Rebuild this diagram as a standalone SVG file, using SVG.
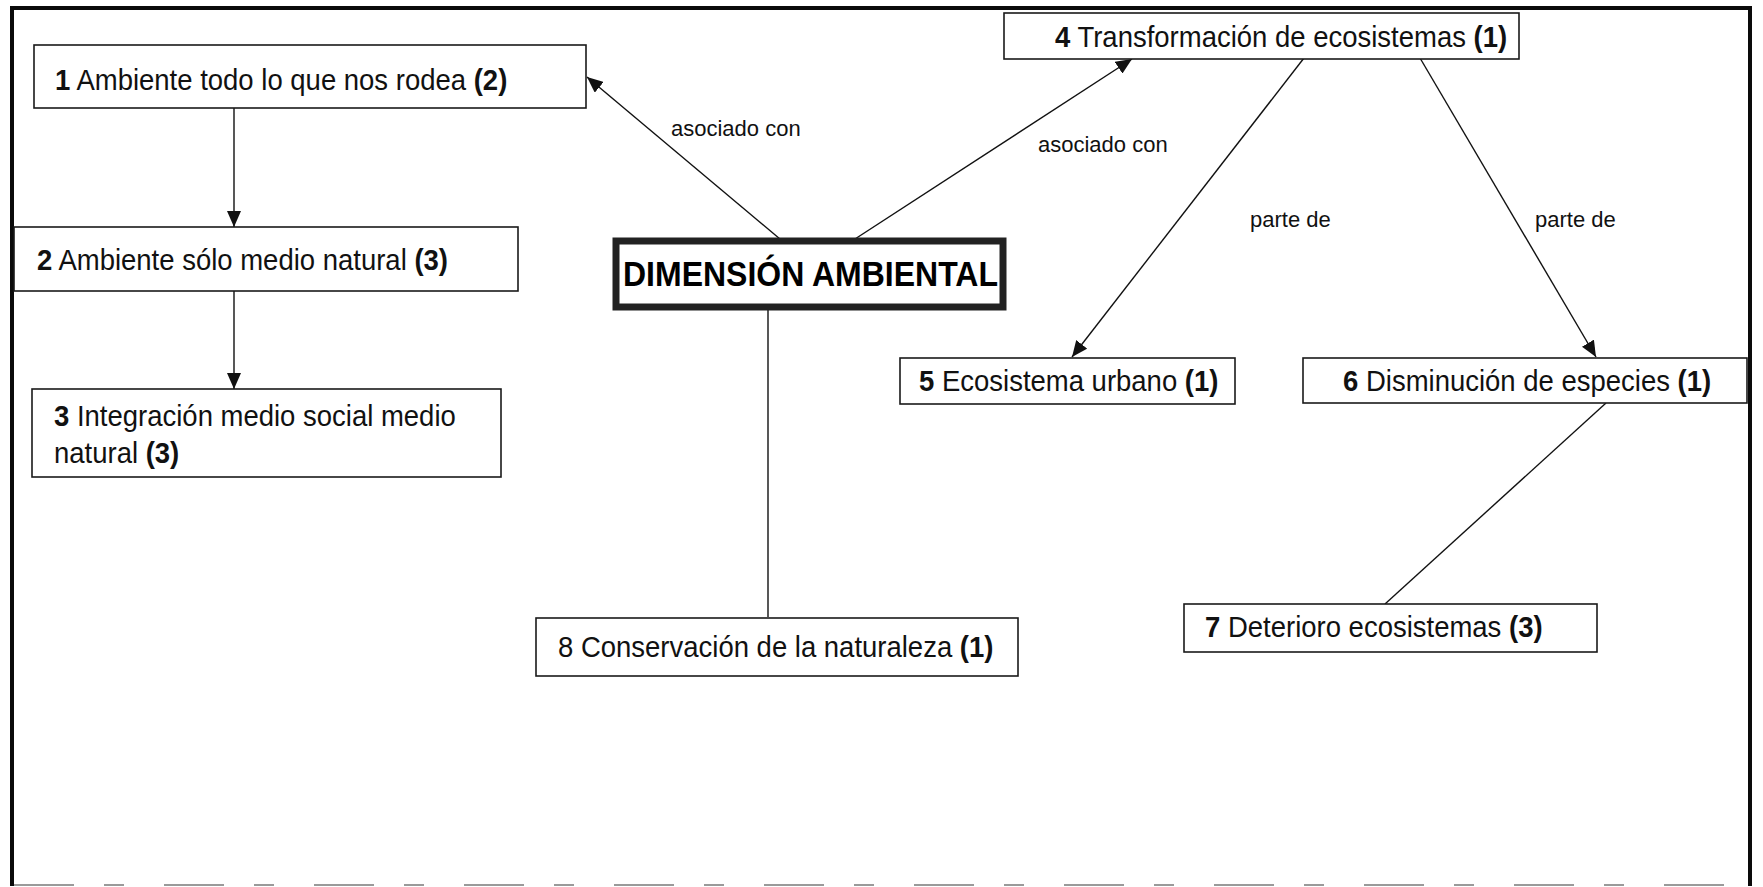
<svg xmlns="http://www.w3.org/2000/svg" width="1763" height="887" viewBox="0 0 1763 887">
  <style>
    .node rect { fill: #ffffff; stroke: #1a1a1a; stroke-width: 1.6; }
    .main rect { fill: #ffffff; stroke: #222222; stroke-width: 7; }
    .t { font-family: "Liberation Sans", Arial, sans-serif; font-size: 27.5px; fill: #111111; }
    .m { font-family: "Liberation Sans", Arial, sans-serif; font-size: 32px; font-weight: bold; fill: #000000; }
    .b { font-weight: bold; }
    .lbl { font-family: "Liberation Sans", Arial, sans-serif; font-size: 22px; fill: #111111; }
    .conn line { stroke: #111111; stroke-width: 1.4; fill: none; }
    .frame { stroke: #0a0a0a; stroke-width: 4; fill: none; }
    .frame-bottom { stroke: #9a9a9a; stroke-width: 2; stroke-dasharray: 60 30 20 40; fill: none; }
  </style>
  <defs>
    <marker id="ah" markerWidth="16" markerHeight="14" refX="16" refY="7" orient="auto" markerUnits="userSpaceOnUse">
      <path d="M0,0 L16,7 L0,14 z" fill="#111111"/>
    </marker>
  </defs>

  <rect width="1763" height="887" fill="#ffffff"/>

  <g id="frame">
    <path class="frame" d="M12,886 L12,8 L1750,8 L1750,886"/>
    <line class="frame-bottom" x1="14" y1="885" x2="1748" y2="885"/>
  </g>

  <g id="connectors" class="conn">
    <line x1="234" y1="108" x2="234" y2="227" marker-end="url(#ah)"/>
    <line x1="234" y1="291" x2="234" y2="389" marker-end="url(#ah)"/>
    <line x1="780" y1="239" x2="587" y2="77" marker-end="url(#ah)"/>
    <line x1="855" y1="239" x2="1132" y2="59" marker-end="url(#ah)"/>
    <line x1="1304" y1="58" x2="1072" y2="357" marker-end="url(#ah)"/>
    <line x1="1420" y1="58" x2="1596" y2="357" marker-end="url(#ah)"/>
    <line x1="1606" y1="403" x2="1385" y2="604"/>
    <line x1="768" y1="309" x2="768" y2="617"/>
  </g>

  <g id="labels">
    <text class="lbl" x="671" y="136">asociado con</text>
    <text class="lbl" x="1038" y="152">asociado con</text>
    <text class="lbl" x="1250" y="227">parte de</text>
    <text class="lbl" x="1535" y="227">parte de</text>
  </g>

  <g id="n1" class="node">
    <rect x="34" y="45" width="552" height="63"/>
    <text class="t" transform="translate(55,90) scale(1,1.1)"><tspan class="b">1</tspan> Ambiente todo lo que nos rodea <tspan class="b">(2)</tspan></text>
  </g>

  <g id="n2" class="node">
    <rect x="14" y="227" width="504" height="64"/>
    <text class="t" transform="translate(37,270) scale(1,1.1)"><tspan class="b">2</tspan> Ambiente sólo medio natural <tspan class="b">(3)</tspan></text>
  </g>

  <g id="n3" class="node">
    <rect x="32" y="389" width="469" height="88"/>
    <text class="t" transform="translate(54,426) scale(1,1.1)"><tspan class="b">3</tspan> Integración medio social medio</text>
    <text class="t" transform="translate(54,463) scale(1,1.1)">natural <tspan class="b">(3)</tspan></text>
  </g>

  <g id="main" class="main">
    <rect x="616" y="241" width="387" height="66"/>
    <text class="m" transform="translate(623,286) scale(1,1.1)">DIMENSIÓN AMBIENTAL</text>
  </g>

  <g id="n4" class="node">
    <rect x="1004" y="13" width="515" height="46"/>
    <text class="t" transform="translate(1055,47) scale(1,1.1)"><tspan class="b">4</tspan> Transformación de ecosistemas <tspan class="b">(1)</tspan></text>
  </g>

  <g id="n5" class="node">
    <rect x="900" y="358" width="335" height="46"/>
    <text class="t" transform="translate(919,391) scale(1,1.1)"><tspan class="b">5</tspan> Ecosistema urbano <tspan class="b">(1)</tspan></text>
  </g>

  <g id="n6" class="node">
    <rect x="1303" y="358" width="444" height="45"/>
    <text class="t" transform="translate(1343,391) scale(1,1.1)"><tspan class="b">6</tspan> Disminución de especies <tspan class="b">(1)</tspan></text>
  </g>

  <g id="n7" class="node">
    <rect x="1184" y="604" width="413" height="48"/>
    <text class="t" transform="translate(1205,637) scale(1,1.1)"><tspan class="b">7</tspan> Deterioro ecosistemas <tspan class="b">(3)</tspan></text>
  </g>

  <g id="n8" class="node">
    <rect x="536" y="618" width="482" height="58"/>
    <text class="t" transform="translate(558,657) scale(1,1.1)">8 Conservación de la naturaleza <tspan class="b">(1)</tspan></text>
  </g>
</svg>
